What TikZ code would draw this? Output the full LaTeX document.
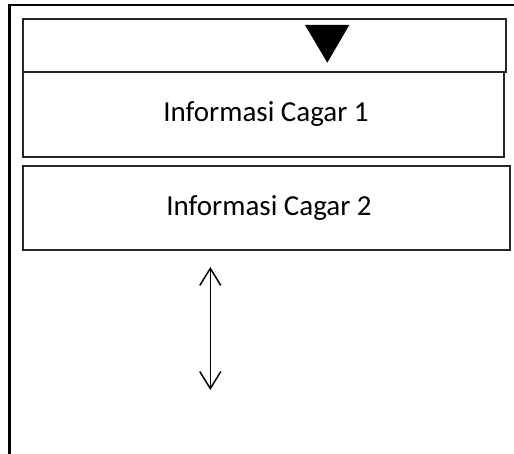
\documentclass[tikz,border=0pt]{standalone}
\usepackage{fontspec}
\setmainfont{Carlito}
\usetikzlibrary{arrows.meta}
\begin{document}
\begin{tikzpicture}[x=1pt,y=-1pt,
  panel/.style={draw=black!85,line width=1.5pt,inner sep=0pt,
    font=\fontsize{29}{34}\selectfont},
  frame/.style={draw=black,line width=2.4pt},
  scrollarrow/.style={draw=black,line width=1.5pt,
    {Straight Barb[length=17pt,width=21pt,line width=1.5pt]}-{Straight Barb[length=17pt,width=21pt,line width=1.5pt]}}]
  \useasboundingbox (0,0) rectangle (514,454);
  % outer frame, open to the right and bottom
  \draw[frame] (9.5,454) -- (9.5,5) -- (514,5);
  % header bar with the drop-down marker
  \node[panel,minimum width=483pt,minimum height=53pt] (header) at (264.5,45.5) {};
  \fill[black] (305,25) -- (349.3,25) -- (327.3,62.7) -- cycle;
  % information panels
  \node[panel,minimum width=481pt,minimum height=85pt] (info1) at (263.5,114.5) {\hspace{5pt}Informasi Cagar 1};
  \node[panel,minimum width=487pt,minimum height=84pt] (info2) at (266.5,208) {\hspace{5pt}Informasi Cagar 2};
  % scroll indicator
  \coordinate (scrolltop) at (210.3,267);
  \coordinate (scrollbot) at (210.3,390);
  \draw[scrollarrow] (scrolltop) -- (scrollbot);
\end{tikzpicture}
\end{document}
